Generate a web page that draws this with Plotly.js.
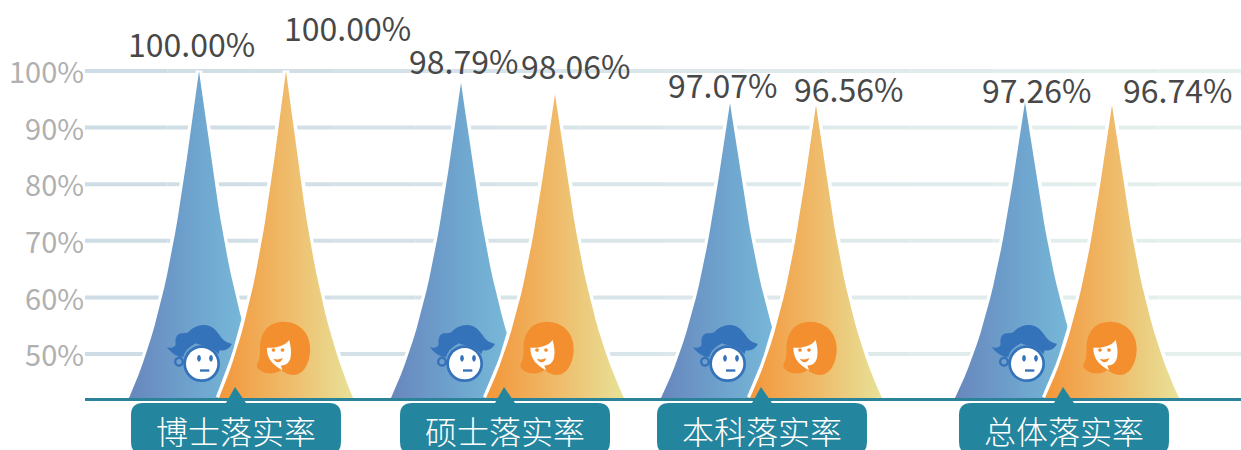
<!DOCTYPE html>
<html><head><meta charset="utf-8">
<script src="https://cdn.plot.ly/plotly-3.0.1.min.js"></script>
<style>html,body{margin:0;padding:0;background:#fff;overflow:hidden}#c{width:1241px;height:450px}</style>
</head><body><div id="c"></div>
<script>
// ---- data ----
const categories = ['博士落实率','硕士落实率','本科落实率','总体落实率'];
const doctorLabels = ['100.00%','98.79%','97.07%','97.26%'];      // printed values, blue peaks
const femaleLabels = ['100.00%','98.06%','96.56%','96.74%'];      // printed values, orange peaks
const blueHeights   = [100, 97.9, 94.35, 94.5];
const orangeHeights = [100, 95.9, 94, 94];
const yTicks = [50,60,70,80,90,100];

// ---- placement / styling ----
const FONT = '"Noto Sans CJK SC","Noto Sans",sans-serif';
const BASE = 42.23;
const blueX = [199,461,730,1025], orangeX = [286,555,816,1112];
const blueW = [70,70,69,70], orangeW = [67,69,66,67];
const calloutX = [236,505,762,1064];
const boyX = [200,463,726,1025], girlX = [283.5,547,810,1110];
const blueLabelOff = [[-8,3],[2,-2],[-8,-6],[11,-12]];   // label centre offset from tip
const orangeLabelOff = [[61,19],[20,4],[32,-8],[65,-9]];
// peak outline: one cubic curve from tip to base, as (fraction of half width, fraction of height)
const outlineW = [0,.25,.42,1], outlineF = [0,.38,.72,1], outlineSteps = 24;
function bez(p,t){const u=1-t;return 3*u*u*t*p[1]+3*u*t*t*p[2]+t*t*t*p[3];}

function peak(cx,hw,top){
  const xs=[],ys=[];
  for(let i=outlineSteps;i>=0;i--){const t=i/outlineSteps;xs.push(cx-hw*bez(outlineW,t));ys.push(top-(top-BASE)*bez(outlineF,t));}
  for(let i=1;i<=outlineSteps;i++){const t=i/outlineSteps;xs.push(cx+hw*bez(outlineW,t));ys.push(top-(top-BASE)*bez(outlineF,t));}
  return {xs,ys};
}
const traces=[];
// gridlines fade from blue-grey to pale green along the width
const gridA=[206,220,229], gridB=[230,241,238], nSeg=14;
for(let s=0;s<nSeg;s++){
  const t=s/(nSeg-1), col='rgb('+gridA.map((a,i)=>Math.round(a+(gridB[i]-a)*t)).join(',')+')';
  const x0=85+(1241-85)*s/nSeg, x1=85+(1241-85)*(s+1)/nSeg, xs=[],ys=[];
  yTicks.forEach(v=>{xs.push(x0,x1,null);ys.push(v,v,null);});
  traces.push({x:xs,y:ys,mode:'lines',line:{color:col,width:4},hoverinfo:'skip'});
}
function addPeak(cx,hw,top,scale){
  const p=peak(cx,hw,top);
  traces.push({x:p.xs,y:p.ys,mode:'lines',line:{color:'#fff',width:6.5},hoverinfo:'skip'});
  traces.push({x:p.xs,y:p.ys,mode:'lines',line:{width:0},fill:'toself',
    fillgradient:{type:'horizontal',colorscale:scale},hoverinfo:'skip'});
}
const blueScale=[[0,'#6887bd'],[.5,'#6fa6cf'],[1,'#7cc1dd']];
const orangeScale=[[0,'#f3963a'],[.5,'#efba69'],[1,'#e7e298']];
categories.forEach((c,i)=>{
  addPeak(blueX[i],blueW[i],blueHeights[i],blueScale);
  addPeak(orangeX[i],orangeW[i],orangeHeights[i],orangeScale);
});

// icon helpers: paths are given in a 3x grid, y down, and turned into pixel shapes
function circ(cx,cy,rx,ry){ry=ry||rx;const k=.5523;
  return `M${cx-rx},${cy} C${cx-rx},${cy-k*ry} ${cx-k*rx},${cy-ry} ${cx},${cy-ry} C${cx+k*rx},${cy-ry} ${cx+rx},${cy-k*ry} ${cx+rx},${cy} C${cx+rx},${cy+k*ry} ${cx+k*rx},${cy+ry} ${cx},${cy+ry} C${cx-k*rx},${cy+ry} ${cx-rx},${cy+k*ry} ${cx-rx},${cy} Z`;}
function toPx(path,ox,oy,s){
  return path.replace(/(-?[\d.]+),(-?[\d.]+)/g,(m,a,b)=>((+a-ox)*s).toFixed(2)+','+(-(+b-oy)*s).toFixed(2));
}
function pixelShape(path,fill,xa,ya,yref,ox,oy,s){
  return {type:'path',layer:'above',xref:'x',yref:yref,xsizemode:'pixel',ysizemode:'pixel',xanchor:xa,yanchor:ya,
    path:toPx(path,ox,oy,s),fillcolor:fill,line:{width:0}};
}
const yOf=px=>100-(px-71)/5.66;
const BLUE='#3472ba', ORG='#f48f2f';
const boyParts=[
 [circ(57,140,15),BLUE],[circ(57,140,8),'#6fa0cb'],
 [circ(125,146,55),BLUE],[circ(125,146,47),'#fff'],
 ['M20,95 C34,102 44,98 47,88 C44,70 50,56 65,55 C73,54 80,55 86,51 C96,38 115,29 135,30 C158,32 170,48 180,62 C188,76 203,84 216,86 C210,100 195,108 180,106 C178,108 176,112 176,118 C165,105 150,95 125,90 Q112,88 108,85 C90,95 75,105 70,125 L62,126 C45,122 30,110 20,95 Z',BLUE],
 [circ(117,130,5.5,10),BLUE],[circ(153,130,5.5,10),BLUE],
 ['M120,163 L148,163 L148,170 L120,170 Z',BLUE]
];
const girlParts=[
 ['M100,20 C148,20 180,55 180,100 C180,145 160,180 130,180 C112,180 100,170 92,165 C80,178 45,180 28,165 C18,155 18,148 24,140 C32,128 28,105 30,85 C35,45 60,20 100,20 Z',ORG],
 ['M50,98 C72,100 103,95 117,75 C122,95 125,115 120,132 C115,145 108,150 92,152 L97,166 C85,160 72,150 65,142 C55,130 50,115 50,98 Z','#fff'],
 [circ(70,105,5.5),ORG],[circ(97,105,5.5),ORG],
 ['M70,131 Q84,136 98,129 Q93,142 84,142 Q74,141 70,131 Z',ORG]
];
const shapes=[];
categories.forEach((c,i)=>{
  boyParts.forEach(p=>shapes.push(pixelShape(p[0],p[1],boyX[i],yOf(352),'y',120,111,1/3)));
  girlParts.forEach(p=>shapes.push(pixelShape(p[0],p[1],girlX[i],yOf(348),'y',100,99,1/3)));
  const r=12, L=-105, R=105, T=5, B=56;
  const box=`M${L+r},${T} L-10,${T} L-1,-11 L10,${T} L${R-r},${T} Q${R},${T} ${R},${T+r} L${R},${B-r} Q${R},${B} ${R-r},${B} L${L+r},${B} Q${L},${B} ${L},${B-r} L${L},${T+r} Q${L},${T} ${L+r},${T} Z`;
  shapes.push(pixelShape(box,'#24859e',calloutX[i],0,'paper',0,0,1));
});
const annotations=[];
function valLabel(text,x,y,off){
  annotations.push({text,x,y,xref:'x',yref:'y',xanchor:'center',yanchor:'bottom',showarrow:false,
    xshift:off[0],yshift:off[1],font:{family:FONT,size:32,color:'#484848'}});
}
categories.forEach((c,i)=>{
  valLabel(doctorLabels[i],blueX[i],blueHeights[i],blueLabelOff[i]);
  valLabel(femaleLabels[i],orangeX[i],orangeHeights[i],orangeLabelOff[i]);
  annotations.push({text:c,x:calloutX[i],y:0,xref:'x',yref:'paper',xanchor:'center',yanchor:'middle',yshift:-32,
    showarrow:false,font:{family:FONT,size:32,weight:300,color:'#fff'}});
});
const layout={
  width:1241,height:450,margin:{l:85,r:0,t:0,b:52,pad:0},
  paper_bgcolor:'#fff',plot_bgcolor:'#fff',showlegend:false,
  xaxis:{range:[85,1241],showgrid:false,zeroline:false,showticklabels:false,ticks:'',
    showline:true,linecolor:'#2a8398',linewidth:3,fixedrange:true},
  yaxis:{range:[BASE,112.54],tickvals:yTicks,ticktext:yTicks.map(v=>v+'%'),showgrid:false,zeroline:false,
    showline:false,ticks:'',tickfont:{family:FONT,size:29,color:'#b0b0b0'},ticklabelstandoff:0,ticklabelshift:2,fixedrange:true},
  shapes,annotations
};
Plotly.newPlot('c',traces,layout,{displayModeBar:false,staticPlot:true});
</script></body></html>
